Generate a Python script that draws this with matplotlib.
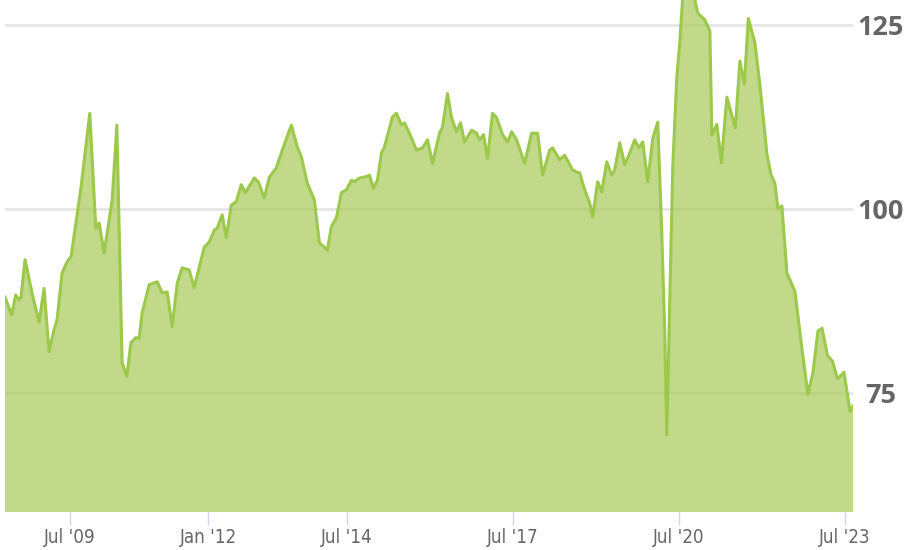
import matplotlib
matplotlib.use("Agg")
import matplotlib.pyplot as plt

# Decimal-year positions and index values
years = [
    2008.332, 2008.453, 2008.525, 2008.585, 2008.621, 2008.694, 2008.820, 2008.947,
    2009.037, 2009.128, 2009.218, 2009.272, 2009.363, 2009.453, 2009.525, 2009.706,
    2009.863, 2009.972, 2010.032, 2010.122, 2010.267, 2010.352, 2010.447, 2010.532,
    2010.605, 2010.695, 2010.755, 2010.809, 2010.936, 2011.080, 2011.171, 2011.261,
    2011.351, 2011.442, 2011.532, 2011.659, 2011.749, 2011.930, 2012.020, 2012.111,
    2012.165, 2012.255, 2012.328, 2012.418, 2012.509, 2012.599, 2012.671, 2012.834,
    2012.906, 2013.015, 2013.105, 2013.232, 2013.340, 2013.503, 2013.611, 2013.684,
    2013.792, 2013.919, 2014.009, 2014.100, 2014.154, 2014.226, 2014.317, 2014.407,
    2014.497, 2014.588, 2014.642, 2014.732, 2014.859, 2014.913, 2014.986, 2015.058,
    2015.130, 2015.184, 2015.329, 2015.401, 2015.492, 2015.546, 2015.636, 2015.763,
    2015.871, 2015.962, 2016.052, 2016.179, 2016.233, 2016.323, 2016.396, 2016.486,
    2016.558, 2016.631, 2016.757, 2016.848, 2016.902, 2016.974, 2017.047, 2017.137,
    2017.209, 2017.318, 2017.408, 2017.481, 2017.571, 2017.716, 2017.842, 2017.951,
    2018.041, 2018.168, 2018.222, 2018.348, 2018.439, 2018.583, 2018.656, 2018.710,
    2018.800, 2018.891, 2018.945, 2019.035, 2019.108, 2019.198, 2019.289, 2019.343,
    2019.433, 2019.524, 2019.614, 2019.704, 2019.777, 2019.849, 2019.940, 2020.030,
    2020.120, 2020.193, 2020.247, 2020.283, 2020.337, 2020.391, 2020.464, 2020.518,
    2020.590, 2020.699, 2020.843, 2020.916, 2020.970, 2021.061, 2021.097, 2021.187,
    2021.269, 2021.368, 2021.521, 2021.603, 2021.684, 2021.756, 2021.874, 2021.964,
    2022.091, 2022.163, 2022.235, 2022.290, 2022.362, 2022.453, 2022.597, 2022.724,
    2022.832, 2022.923, 2023.013, 2023.086, 2023.185, 2023.275, 2023.366, 2023.483,
    2023.592, 2023.646,
]
values = [
    88.0, 85.6, 88.3, 87.6, 88.0, 93.1, 88.6, 84.6,
    89.2, 80.6, 83.6, 84.9, 91.3, 92.8, 93.5, 103.0,
    113.0, 97.4, 98.1, 94.0, 101.2, 111.4, 79.1, 77.2,
    81.8, 82.5, 82.4, 85.9, 89.7, 90.1, 88.6, 88.7,
    84.0, 89.9, 92.0, 91.7, 89.3, 94.8, 95.5, 97.1,
    97.4, 99.2, 96.1, 100.5, 101.0, 103.3, 102.2, 104.2,
    103.7, 101.5, 104.3, 105.6, 108.0, 111.4, 108.4, 107.1,
    103.5, 101.2, 95.4, 94.8, 94.4, 97.6, 98.8, 102.2,
    102.6, 103.9, 103.7, 104.2, 104.4, 104.6, 102.8, 103.9,
    107.6, 108.4, 112.5, 113.0, 111.4, 111.7, 110.3, 108.0,
    108.3, 109.4, 106.2, 110.3, 111.1, 115.7, 112.4, 110.5,
    111.7, 109.1, 110.7, 110.3, 109.4, 110.1, 106.9, 113.0,
    112.4, 110.1, 109.1, 110.5, 109.4, 106.2, 110.3, 110.3,
    104.6, 108.0, 108.3, 106.7, 107.3, 105.3, 105.0, 104.9,
    102.6, 100.8, 98.9, 103.7, 102.3, 106.4, 104.6, 105.3,
    109.0, 106.0, 107.6, 109.4, 108.3, 109.1, 103.7, 109.6,
    111.8, 96.7, 83.2, 69.3, 87.6, 105.7, 117.9, 122.6,
    131.0, 131.5, 126.6, 126.1, 125.7, 124.2, 110.0, 111.5,
    106.3, 115.2, 111.0, 120.1, 117.0, 125.9, 122.6, 116.9,
    107.5, 104.7, 103.5, 100.1, 100.4, 91.3, 88.8, 81.0,
    74.8, 77.8, 83.4, 83.8, 80.1, 79.3, 76.9, 77.8,
    72.5, 73.2,
]

x_tick_pos = [2009.5, 2012.0, 2014.5, 2017.5, 2020.5, 2023.5]
x_tick_labels = ["Jul '09", "Jan '12", "Jul '14", "Jul '17", "Jul '20", "Jul '23"]
y_ticks = [75, 100, 125]
y_tick_labels = ["75", "100", "125"]

W, H = 908, 550
fig = plt.figure(figsize=(W / 100, H / 100), dpi=100)
ax = fig.add_axes([5 / W, 1 - 512 / H, 848 / W, 512 / H])

line_color = "#9cc84c"
ax.fill_between(years, values, 0, color="#a9ca58", alpha=0.7, lw=0, zorder=2)
ax.plot(years, values, color=line_color, lw=2.2, zorder=3, solid_joinstyle="round")

ax.set_xlim(years[0], years[-1])
ax.set_ylim(58.8, 128.4)

for s in ax.spines.values():
    s.set_visible(False)

ax.set_yticks(y_ticks)
ax.set_yticklabels(y_tick_labels)
ax.yaxis.tick_right()
ax.tick_params(axis="y", length=0, pad=20, labelsize=19.5, labelcolor="#666666")
for lab in ax.get_yticklabels():
    lab.set_fontweight("bold")
    lab.set_horizontalalignment("center")
    lab.set_family(["Open Sans", "DejaVu Sans"])

ax.grid(axis="y", color="#e6e6e6", lw=2.0, zorder=1)
ax.set_axisbelow(True)

ax.set_xticks(x_tick_pos)
ax.set_xticklabels(x_tick_labels)
ax.tick_params(axis="x", direction="out", length=9.5, width=1.0, color="#ccd6eb",
               pad=2, labelsize=13.5, labelcolor="#666666")
for lab in ax.get_xticklabels():
    lab.set_family(["DejaVu Sans"])
    lab.set_fontstretch("condensed")

fig.savefig("out.png", dpi=100)
